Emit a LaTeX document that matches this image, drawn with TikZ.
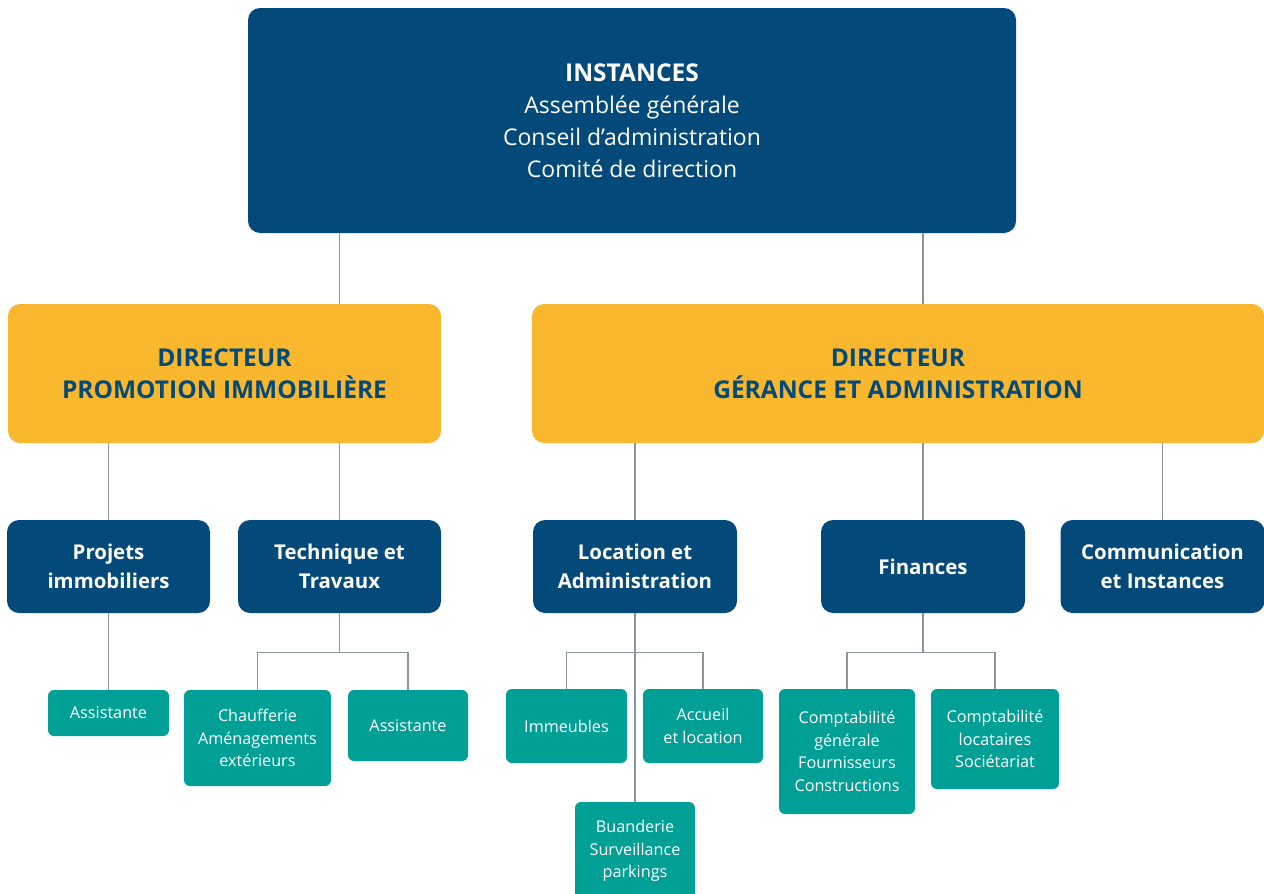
\documentclass[tikz,border=0pt]{standalone}
\usepackage{fontspec}
\setmainfont{Open Sans}
\usetikzlibrary{calc}
\definecolor{navy}{RGB}{3,74,122}
\definecolor{gold}{RGB}{249,183,45}
\definecolor{teal}{RGB}{0,160,150}
\definecolor{wire}{RGB}{140,148,158}
\begin{document}
\begin{tikzpicture}[x=1pt,y=-1pt,
  box/.style={rounded corners=12pt, inner sep=0pt, align=center, text=white},
  headbox/.style={box, fill=navy, font=\fontsize{23}{32}\selectfont},
  dirbox/.style={box, fill=gold, text=navy, font=\fontsize{24.5}{32}\selectfont\bfseries},
  unitbox/.style={box, fill=navy, font=\fontsize{20.4}{29}\selectfont\bfseries},
  teambox/.style={box, rounded corners=6pt, fill=teal, font=\fontsize{16.2}{22.5}\selectfont},
  link/.style={draw=wire, line width=1.1pt}]
\useasboundingbox (0,0) rectangle (1264,894);
\clip (0,0) rectangle (1264,894);
\fill[white] (0,0) rectangle (1264,894);

% governing bodies
\node[headbox, minimum width=768, minimum height=225] (top) at (632,120.5)
  {{\fontsize{24.5}{32}\selectfont\bfseries INSTANCES}\\Assemblée générale\\Conseil d’administration\\Comité de direction};

% directors
\node[dirbox, minimum width=433, minimum height=139] (dirA) at (224.5,373.5)
  {DIRECTEUR\\PROMOTION IMMOBILIÈRE};
\node[dirbox, minimum width=732, minimum height=139] (dirB) at (898,373.5)
  {DIRECTEUR\\GÉRANCE ET ADMINISTRATION};

% departments
\node[unitbox, minimum width=203, minimum height=93] (proj) at (108.5,566.5) {Projets\\immobiliers};
\node[unitbox, minimum width=203, minimum height=93] (tech) at (339.5,566.5) {Technique et\\Travaux};
\node[unitbox, minimum width=204, minimum height=93] (loc) at (635,566.5) {Location et\\Administration};
\node[unitbox, minimum width=204, minimum height=93] (fin) at (923,566.5) {Finances};
\node[unitbox, minimum width=204, minimum height=93] (com) at (1162.5,566.5) {Communication\\et Instances};

% teams
\node[teambox, minimum width=121, minimum height=46] (asA) at (108.5,713) {Assistante};
\node[teambox, minimum width=147, minimum height=96] (chauf) at (257.5,738) {Chaufferie\\Aménagements\\extérieurs};
\node[teambox, minimum width=120, minimum height=71] (asB) at (408,725.5) {Assistante};
\node[teambox, minimum width=121, minimum height=74] (imm) at (566.5,726) {Immeubles};
\node[teambox, minimum width=120, minimum height=74] (acc) at (703,726) {Accueil\\et location};
\node[teambox, minimum width=120, minimum height=98] (buan) at (635,851) {Buanderie\\Surveillance\\parkings};
\node[teambox, minimum width=136, minimum height=125] (cg) at (847,751.5) {Comptabilité\\générale\\Fournisseurs\\Constructions};
\node[teambox, minimum width=128, minimum height=100] (cl) at (995,739) {Comptabilité\\locataires\\Sociétariat};

% connectors
\draw[link] (top.south -| tech.north) -- (dirA.north -| tech.north);
\draw[link] (top.south -| fin.north) -- (dirB.north -| fin.north);
\draw[link] (dirA.south -| proj.north) -- (proj.north);
\draw[link] (dirA.south -| tech.north) -- (tech.north);
\draw[link] (dirB.south -| loc.north) -- (loc.north);
\draw[link] (dirB.south -| fin.north) -- (fin.north);
\draw[link] (dirB.south -| com.north) -- (com.north);
\draw[link] (proj.south) -- (asA.north);
\draw[link] (tech.south) -- ++(0,39) coordinate (techbus);
\draw[link] (chauf.north) |- (techbus) -| (asB.north);
\draw[link] (loc.south) -- (buan.north);
\coordinate (locbus) at ($(loc.south)+(0,39)$);
\draw[link] (imm.north) |- (locbus) -| (acc.north);
\draw[link] (fin.south) -- ++(0,39) coordinate (finbus);
\draw[link] (cg.north) |- (finbus) -| (cl.north);
\end{tikzpicture}
\end{document}
